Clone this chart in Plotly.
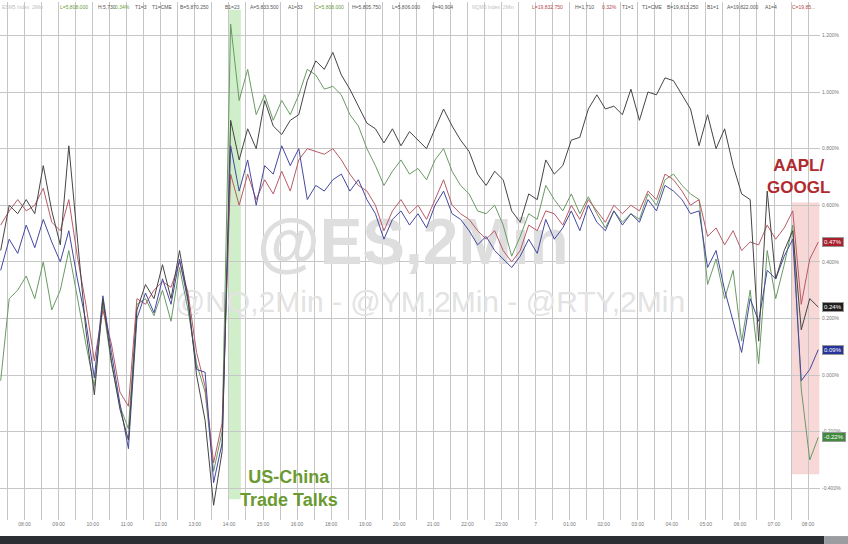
import numpy as np
import plotly.graph_objects as go

# time axis: hours after 08:00, one sample every 15 min (2-min bars thinned)
t_hours = np.round(-0.7 + 0.25 * np.arange(97), 2)

hour_labels = ["08:00", "09:00", "10:00", "11:00", "12:00", "13:00", "14:00", "15:00",
               "16:00", "18:00", "19:00", "20:00", "21:00", "22:00", "23:00", "7",
               "01:00", "02:00", "03:00", "04:00", "05:00", "06:00", "07:00", "08:00"]

pct_ticks = [-0.4, -0.2, 0.0, 0.2, 0.4, 0.6, 0.8, 1.0, 1.2]

# % change
black_chg = [0.44, 0.60, 0.57, 0.62, 0.57, 0.74, 0.58, 0.46, 0.81, 0.48,
             0.16, -0.07, 0.27, 0.05, -0.12, -0.23, 0.23, 0.32, 0.27, 0.39,
             0.27, 0.44, 0.27, 0.00, -0.16, -0.46, -0.27, 0.90, 0.76, 0.87,
             0.80, 0.97, 0.88, 0.85, 0.90, 0.92, 1.04, 1.11, 1.08, 1.14,
             1.06, 1.01, 0.95, 0.89, 0.87, 0.82, 0.87, 0.81, 0.86, 0.83,
             0.80, 0.87, 0.94, 0.88, 0.83, 0.79, 0.71, 0.67, 0.72, 0.69,
             0.58, 0.54, 0.64, 0.62, 0.76, 0.71, 0.74, 0.83, 0.84, 0.94,
             0.99, 0.94, 0.95, 0.92, 1.01, 0.90, 1.00, 0.99, 1.05, 1.04,
             0.99, 0.94, 0.81, 0.92, 0.80, 0.87, 0.74, 0.64, 0.62, 0.12,
             0.65, 0.34, 0.44, 0.51, 0.16, 0.27, 0.24]

red_chg = [0.53, 0.58, 0.62, 0.58, 0.60, 0.66, 0.54, 0.51, 0.62, 0.42,
           0.25, 0.05, 0.23, 0.11, -0.06, -0.11, 0.27, 0.25, 0.30, 0.33,
           0.31, 0.40, 0.29, 0.08, -0.04, -0.31, -0.17, 0.71, 0.60, 0.71,
           0.62, 0.69, 0.64, 0.72, 0.65, 0.76, 0.80, 0.79, 0.78, 0.80,
           0.76, 0.71, 0.67, 0.65, 0.60, 0.51, 0.58, 0.62, 0.57, 0.60,
           0.55, 0.62, 0.69, 0.60, 0.57, 0.55, 0.51, 0.48, 0.51, 0.44,
           0.40, 0.44, 0.53, 0.51, 0.58, 0.57, 0.53, 0.60, 0.55, 0.62,
           0.58, 0.54, 0.60, 0.57, 0.60, 0.58, 0.65, 0.62, 0.71, 0.69,
           0.65, 0.60, 0.62, 0.49, 0.52, 0.46, 0.51, 0.44, 0.47, 0.46,
           0.53, 0.48, 0.52, 0.58, 0.25, 0.41, 0.47]

blue_chg = [0.37, 0.48, 0.43, 0.53, 0.45, 0.55, 0.47, 0.40, 0.51, 0.34,
            0.19, -0.01, 0.28, 0.08, -0.10, -0.26, 0.20, 0.29, 0.22, 0.34,
            0.25, 0.41, 0.26, 0.02, 0.01, -0.38, -0.24, 0.81, 0.65, 0.76,
            0.60, 0.74, 0.71, 0.81, 0.74, 0.80, 0.62, 0.67, 0.65, 0.69,
            0.71, 0.65, 0.69, 0.62, 0.57, 0.48, 0.55, 0.58, 0.53, 0.57,
            0.52, 0.60, 0.65, 0.57, 0.55, 0.51, 0.46, 0.49, 0.44, 0.41,
            0.38, 0.42, 0.48, 0.43, 0.55, 0.48, 0.52, 0.58, 0.51, 0.60,
            0.54, 0.51, 0.58, 0.53, 0.57, 0.54, 0.62, 0.58, 0.67, 0.65,
            0.62, 0.57, 0.58, 0.38, 0.44, 0.30, 0.19, 0.08, 0.27, 0.19,
            0.37, 0.34, 0.42, 0.48, -0.02, 0.02, 0.09]

green_chg = [-0.02, 0.27, 0.30, 0.35, 0.27, 0.40, 0.23, 0.30, 0.44, 0.27,
             0.11, -0.04, 0.25, 0.04, -0.11, -0.19, 0.25, 0.27, 0.21, 0.30,
             0.19, 0.38, 0.23, 0.04, -0.06, -0.34, -0.20, 1.24, 0.97, 1.08,
             0.92, 0.99, 0.90, 0.97, 0.92, 0.99, 1.08, 1.06, 1.01, 1.02,
             0.99, 0.92, 0.88, 0.80, 0.74, 0.67, 0.72, 0.76, 0.71, 0.73,
             0.69, 0.76, 0.80, 0.72, 0.67, 0.64, 0.58, 0.57, 0.60, 0.53,
             0.42, 0.49, 0.57, 0.55, 0.67, 0.62, 0.58, 0.64, 0.57, 0.63,
             0.57, 0.52, 0.58, 0.54, 0.57, 0.55, 0.64, 0.60, 0.69, 0.71,
             0.67, 0.64, 0.62, 0.32, 0.41, 0.27, 0.37, 0.12, 0.30, 0.04,
             0.44, 0.27, 0.39, 0.53, -0.05, -0.30, -0.22]

series = [
    ("green", green_chg, "#6a9a64"),
    ("red", red_chg, "#b85a66"),
    ("blue", blue_chg, "#4448a0"),
    ("black", black_chg, "#454545"),
]
box_colors = {"red": "#a8202c", "black": "#1e1e1e", "blue": "#26349a", "green": "#3f8a3c"}

header_items = [
    (0, "ESM5 Index  2Min", "#c0c0c0"), (58, "L=5,808.000", "#6a9a40"), (96, "H:5,730", "#555"),
    (113, "0.34%", "#6a9a40"), (133, "T1=3", "#555"), (150, "T1=CME", "#555"),
    (178, "B=5,870.250", "#555"), (223, "B1=23", "#555"), (248, "A=5,833.500", "#555"),
    (286, "A1=33", "#555"), (313, "C=5,808.000", "#6a9a40"), (350, "H=5,805.750", "#555"),
    (390, "L=5,806.000", "#555"), (430, "0=40,904", "#555"), (470, "NQM5 Index  2Min", "#c0c0c0"),
    (530, "L=19,832.750", "#b04848"), (573, "H=1,710", "#555"), (600, "0.32%", "#b04848"),
    (620, "T1=1", "#555"), (640, "T1=CME", "#555"), (665, "B=19,813.250", "#555"),
    (705, "B1=1", "#555"), (725, "A=19,822.000", "#555"), (763, "A1=4", "#555"),
    (790, "C=19,85...", "#b04848"),
]

fig = go.Figure()

# watermarks sit under the lines
fig.add_trace(go.Scatter(x=[11.4], y=[0.45], mode="text", text=["<b>@ES,2Min</b>"],
                         textfont=dict(size=64, color="#dedede", family="Arial, Liberation Sans"),
                         hoverinfo="skip"))
fig.add_trace(go.Scatter(x=[11.9], y=[0.25], mode="text", text=["@NQ,2Min - @YM,2Min - @RTY,2Min"],
                         textfont=dict(size=30, color="#e3e3e3", family="Arial, Liberation Sans"),
                         hoverinfo="skip"))

for name, vals, col in series:
    fig.add_trace(go.Scatter(x=t_hours, y=vals, mode="lines", name=name,
                             line=dict(color=col, width=1)))

# event bands
fig.add_shape(type="rect", xref="x", yref="paper", x0=5.99, x1=6.35, y0=0.04, y1=0.985,
              fillcolor="rgba(120,205,100,0.35)", line_width=0, layer="below")
fig.add_shape(type="rect", xref="x", yref="y", x0=22.5, x1=23.33, y0=-0.35, y1=0.61,
              fillcolor="rgba(236,140,140,0.35)", line_width=0, layer="below")

# bottom toolbar strip
fig.add_shape(type="rect", xref="paper", yref="paper", x0=0, x1=1.005, y0=-0.047, y1=-0.031,
              fillcolor="#2b2e33", line_width=0)
fig.add_shape(type="rect", xref="paper", yref="paper", x0=1.005, x1=1.04, y0=-0.047, y1=-0.031,
              fillcolor="#9a9ca0", line_width=0)

fig.add_annotation(x=7.76, y=-0.40, text="<b>US-China<br>Trade Talks</b>", showarrow=False,
                   font=dict(size=18, color="#6b9a30", family="Arial, Liberation Sans"))
fig.add_annotation(x=22.72, y=0.70, text="<b>AAPL/<br>GOOGL</b>", showarrow=False,
                   font=dict(size=17, color="#b02a30", family="Arial, Liberation Sans"))

for name, vals, col in series:
    fig.add_annotation(xref="paper", x=1.003, xanchor="left", y=vals[-1], yref="y",
                       text=f"{vals[-1]:.2f}%", showarrow=False,
                       font=dict(size=6, color="white", family="Arial, Liberation Sans"),
                       bgcolor=box_colors[name], bordercolor="#999", borderwidth=1, borderpad=1)

for px_x, txt, col in header_items:
    fig.add_annotation(xref="paper", yref="paper", x=px_x / 820, y=1.0, xanchor="left", yanchor="top",
                       text=txt, showarrow=False, font=dict(size=5, color=col, family="Arial, Liberation Sans"))

tickvals = []
ticktext = []
for i, lab in enumerate(hour_labels):
    tickvals += [i - 0.5, i]
    ticktext += ["", lab]
tickvals.append(len(hour_labels) - 0.5)
ticktext.append("")

fig.update_layout(
    width=848, height=544,
    margin=dict(l=0, r=28, t=2, b=24),
    paper_bgcolor="white", plot_bgcolor="white",
    showlegend=False,
    font=dict(family="Arial, Liberation Sans"),
    xaxis=dict(range=[-0.72, 23.35], tickvals=tickvals, ticktext=ticktext,
               showgrid=True, gridcolor="#c6c6c6", gridwidth=1, zeroline=False,
               tickfont=dict(size=5, color="#777"), ticks=""),
    yaxis=dict(range=[-0.512, 1.318], side="right", tickvals=pct_ticks,
               ticktext=[f"{v:.3f}%" for v in pct_ticks],
               showgrid=True, gridcolor="#c6c6c6", gridwidth=1, zeroline=False,
               tickfont=dict(size=5, color="#777"), ticks="", ticklabelstandoff=1),
)

fig.write_html("out.html", config={"displayModeBar": False},
               post_script="document.body.style.margin='0';document.body.style.overflow='hidden';")
